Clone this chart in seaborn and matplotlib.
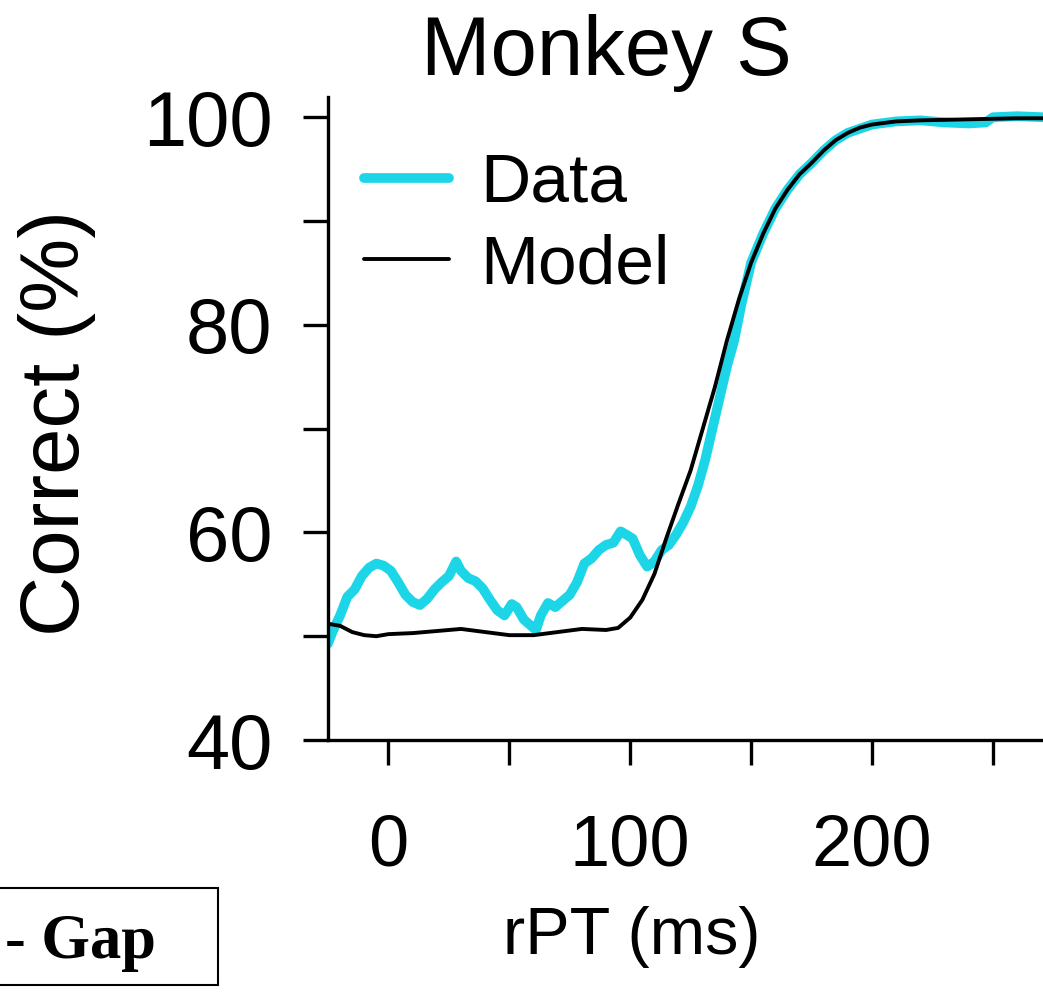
import numpy as np
import pandas as pd
import matplotlib
matplotlib.use("Agg")
import matplotlib.pyplot as plt
import seaborn as sns
from matplotlib.patches import Rectangle

# ---- data ----
data_x = [-25, -23, -20, -17, -14, -11, -8, -5, -2, 1, 4, 7, 10, 13, 16, 19, 22, 25, 28, 30,
          33, 36, 39, 42, 45, 48, 51, 53, 56, 59, 61, 63, 66, 69, 72, 75, 78, 81, 84, 87,
          90, 93, 96, 99, 101, 104, 107, 110, 113, 116, 119, 122, 125, 128, 131, 134, 137, 140,
          143, 146, 150, 155, 160, 165, 170, 175, 180, 185, 190, 200, 210, 220, 230, 240, 247,
          250, 260, 271]
data_y = [49.3, 50.5, 52.0, 53.8, 54.5, 55.8, 56.6, 57.0, 56.8, 56.3, 55.2, 54.0, 53.3, 53.0,
          53.6, 54.5, 55.2, 55.8, 57.2, 56.3, 55.6, 55.3, 54.6, 53.5, 52.5, 52.0, 53.1, 52.8,
          51.6, 51.0, 50.6, 52.0, 53.2, 52.8, 53.4, 54.0, 55.2, 57.0, 57.5, 58.3, 58.8, 59.0,
          60.1, 59.7, 59.4, 57.8, 56.7, 57.2, 58.3, 58.8, 59.8, 61.0, 62.5, 64.5, 67.0, 70.0,
          73.0, 76.0, 78.5, 82.0, 86.0, 88.8, 91.2, 93.0, 94.5, 95.6, 96.8, 97.8, 98.5, 99.3,
          99.6, 99.7, 99.5, 99.4, 99.5, 100.0, 100.1, 100.0]

model_x = [-25, -20, -15, -10, -5, 0, 10, 20, 30, 40, 50, 60, 70, 80, 90, 95, 100, 105, 110,
           115, 120, 125, 130, 135, 140, 145, 150, 155, 160, 165, 170, 175, 180, 185, 190,
           195, 200, 210, 220, 240, 260, 271]
model_y = [51.2, 51.0, 50.4, 50.1, 50.0, 50.2, 50.3, 50.5, 50.7, 50.4, 50.1, 50.1, 50.4, 50.7,
           50.6, 50.8, 51.8, 53.5, 56.0, 59.5, 62.8, 66.0, 70.0, 74.0, 78.5, 82.5, 86.0, 88.8,
           91.2, 93.0, 94.5, 95.6, 96.8, 97.8, 98.5, 99.0, 99.3, 99.6, 99.7, 99.8, 99.9, 99.9]

x_ticks = [0, 50, 100, 150, 200, 250]
x_tick_labels = ["0", "", "100", "", "200", ""]
y_ticks = [40, 50, 60, 70, 80, 90, 100]
y_tick_labels = ["40", "", "60", "", "80", "", "100"]

title = "Monkey S"
x_label = "rPT (ms)"
y_label = "Correct (%)"
series_names = ["Data", "Model"]
box_text = "- Gap"

# ---- style ----
sns.set_style("ticks")
plt.rcParams["font.family"] = ["Liberation Sans", "DejaVu Sans"]
plt.rcParams["text.color"] = "black"
plt.rcParams["axes.labelcolor"] = "black"

W, H = 1043, 1002
fig = plt.figure(figsize=(W / 100, H / 100), dpi=100)
ax = fig.add_axes([328 / W, 1 - 740 / H, (W - 328) / W, (740 - 97) / H])

df_data = pd.DataFrame({"x": data_x, "y": data_y})
df_model = pd.DataFrame({"x": model_x, "y": model_y})

cyan = "#1cd6e8"
sns.lineplot(data=df_data, x="x", y="y", ax=ax, color=cyan, linewidth=7,
             label=series_names[0], solid_capstyle="round", solid_joinstyle="round")
sns.lineplot(data=df_model, x="x", y="y", ax=ax, color="black", linewidth=2.8,
             label=series_names[1])

ax.set_xlim(-25, 270.7)
ax.set_ylim(40, 101.95)
ax.set_xticks(x_ticks)
ax.set_xticklabels(x_tick_labels)
ax.set_yticks(y_ticks)
ax.set_yticklabels(y_tick_labels)
ax.set_xlabel("")
ax.set_ylabel("")

for s in ["top", "right"]:
    ax.spines[s].set_visible(False)
for s in ["left", "bottom"]:
    ax.spines[s].set_linewidth(2.4)
    ax.spines[s].set_color("black")

ax.tick_params(axis="both", direction="out", length=18, width=2.4, color="black",
               labelcolor="black")
ax.tick_params(axis="y", pad=22, labelsize=56)
ax.tick_params(axis="x", pad=35, labelsize=52)

leg = ax.legend(loc="upper left", bbox_to_anchor=((364 - 328) / (W - 328), 1 - (152 - 97) / (740 - 97)),
                frameon=False, fontsize=50, handlelength=1.22, handletextpad=0.45,
                labelspacing=0.25, borderpad=0, borderaxespad=0)
for t in leg.get_texts():
    t.set_color("black")

fig.text(606 / W, 1 - 75 / H, title, ha="center", va="baseline", fontsize=60)
fig.text(57 / W, 1 - 423 / H, y_label, ha="center", va="center", rotation=90, fontsize=60)
fig.text(632 / W, 1 - 937 / H, x_label, ha="center", va="center", fontsize=48)

# boxed annotation at bottom-left (cropped in the reference)
fig.patches.append(Rectangle((-0.01, 1 - 985 / H), 218 / W + 0.01, 97 / H,
                             transform=fig.transFigure, fill=False, edgecolor="black",
                             linewidth=1.5, clip_on=False))
fig.text(5 / W, 1 - 958 / H, box_text, ha="left", va="baseline", fontsize=45,
         fontweight="bold", family=["Liberation Serif", "DejaVu Serif"], color="black")

fig.savefig("out.png", dpi=100)
